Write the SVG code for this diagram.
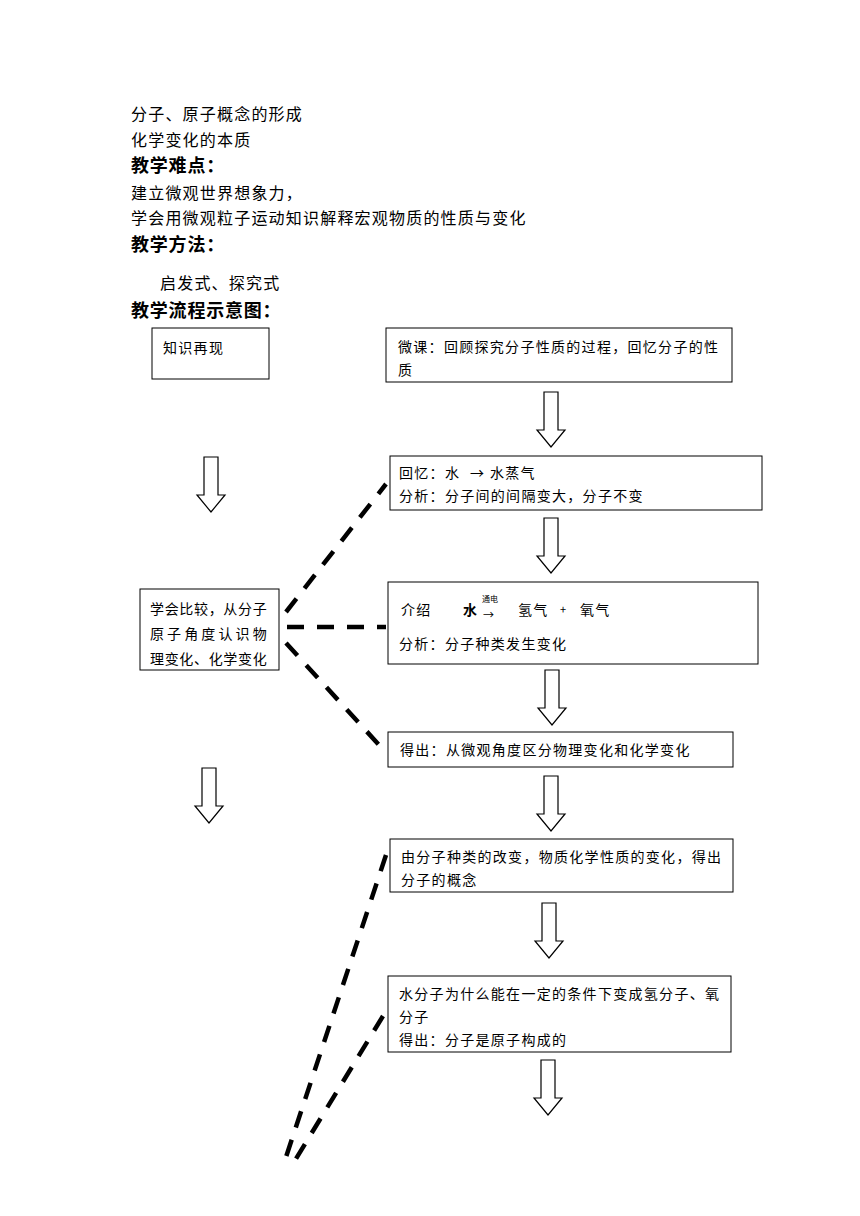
<svg xmlns="http://www.w3.org/2000/svg" width="860" height="1216" viewBox="0 0 860 1216">
<style>
text{font-family:"Noto Sans CJK SC","Noto Sans CJK JP",sans-serif;fill:#000}
.t{font-size:16px;letter-spacing:1.2px}
.h{font-size:18px;font-weight:bold;letter-spacing:0.8px}
.b{font-size:14px;letter-spacing:1.3px}
.box{fill:#fff;stroke:#000;stroke-width:1}
.arr{fill:#fff;stroke:#000;stroke-width:1.2}
.dash{fill:none;stroke:#000;stroke-width:4.5;stroke-dasharray:17 13}
</style>
<defs>
<path id="ar" d="M-7,0 H7 V38 H14 L0,55 L-14,38 H-7 Z"/>
</defs>
<rect width="860" height="1216" fill="#fff"/>
<g id="header">
<text class="t" x="131" y="120">分子、原子概念的形成</text>
<text class="t" x="131" y="146">化学变化的本质</text>
<text class="h" x="131" y="172">教学难点：</text>
<text class="t" x="131" y="199">建立微观世界想象力，</text>
<text class="t" x="131" y="224">学会用微观粒子运动知识解释宏观物质的性质与变化</text>
<text class="h" x="131" y="251">教学方法：</text>
<text class="t" x="160" y="289">启发式、探究式</text>
<text class="h" x="131" y="317">教学流程示意图：</text>
</g>
<g id="connectors">
<path class="dash" d="M286,612 L386,484"/>
<path class="dash" d="M287,627 L386,627"/>
<path class="dash" d="M286,643 L380,746"/>
<path class="dash" d="M386,855 L286,1157"/>
<path class="dash" d="M383,1016 L294,1162"/>
<use href="#ar" class="arr" x="551" y="392"/>
<use href="#ar" class="arr" x="211" y="457"/>
<use href="#ar" class="arr" x="551" y="518"/>
<use href="#ar" class="arr" x="552" y="670"/>
<use href="#ar" class="arr" x="209" y="768"/>
<use href="#ar" class="arr" x="551" y="776"/>
<use href="#ar" class="arr" x="549" y="903"/>
<use href="#ar" class="arr" x="548" y="1060"/>
</g>
<g id="n1">
<rect class="box" x="152" y="328" width="117" height="51"/>
<text class="b" x="163" y="353">知识再现</text>
</g>
<g id="n2">
<rect class="box" x="386" y="328" width="346" height="54"/>
<text class="b" x="398" y="352">微课：回顾探究分子性质的过程，回忆分子的性</text>
<text class="b" x="398" y="375">质</text>
</g>
<g id="n3">
<rect class="box" x="390" y="456" width="372" height="54"/>
<text class="b" x="399" y="478">回忆：水 <tspan x="470">→</tspan><tspan x="490">水蒸气</tspan></text>
<text class="b" x="399" y="501">分析：分子间的间隔变大，分子不变</text>
</g>
<g id="n4">
<rect class="box" x="140" y="589" width="139" height="81"/>
<text class="b" x="150" y="614" textLength="118" lengthAdjust="spacing">学会比较，从分子</text>
<text class="b" x="150" y="639" textLength="118" lengthAdjust="spacing">原子角度认识物</text>
<text class="b" x="150" y="664" textLength="118" lengthAdjust="spacing">理变化、化学变化</text>
</g>
<g id="n5">
<rect class="box" x="388" y="582" width="370" height="82"/>
<text class="b" x="401" y="615">介绍</text>
<text class="b" x="463" y="615" font-weight="bold">水</text>
<text x="482" y="602" font-size="8">通电</text>
<text x="483" y="619" font-size="11">→</text>
<text class="b" x="518" y="615">氢气</text>
<text x="560" y="614" font-size="11">+</text>
<text class="b" x="580" y="615">氧气</text>
<text class="b" x="399" y="649">分析：分子种类发生变化</text>
</g>
<g id="n6">
<rect class="box" x="388" y="732" width="345" height="35"/>
<text class="b" x="400" y="755">得出：从微观角度区分物理变化和化学变化</text>
</g>
<g id="n7">
<rect class="box" x="390" y="839" width="343" height="53"/>
<text class="b" x="401" y="862">由分子种类的改变，物质化学性质的变化，得出</text>
<text class="b" x="401" y="885">分子的概念</text>
</g>
<g id="n8">
<rect class="box" x="388" y="976" width="343" height="76"/>
<text class="b" x="399" y="999">水分子为什么能在一定的条件下变成氢分子、氧</text>
<text class="b" x="399" y="1022">分子</text>
<text class="b" x="399" y="1045">得出：分子是原子构成的</text>
</g>
</svg>
